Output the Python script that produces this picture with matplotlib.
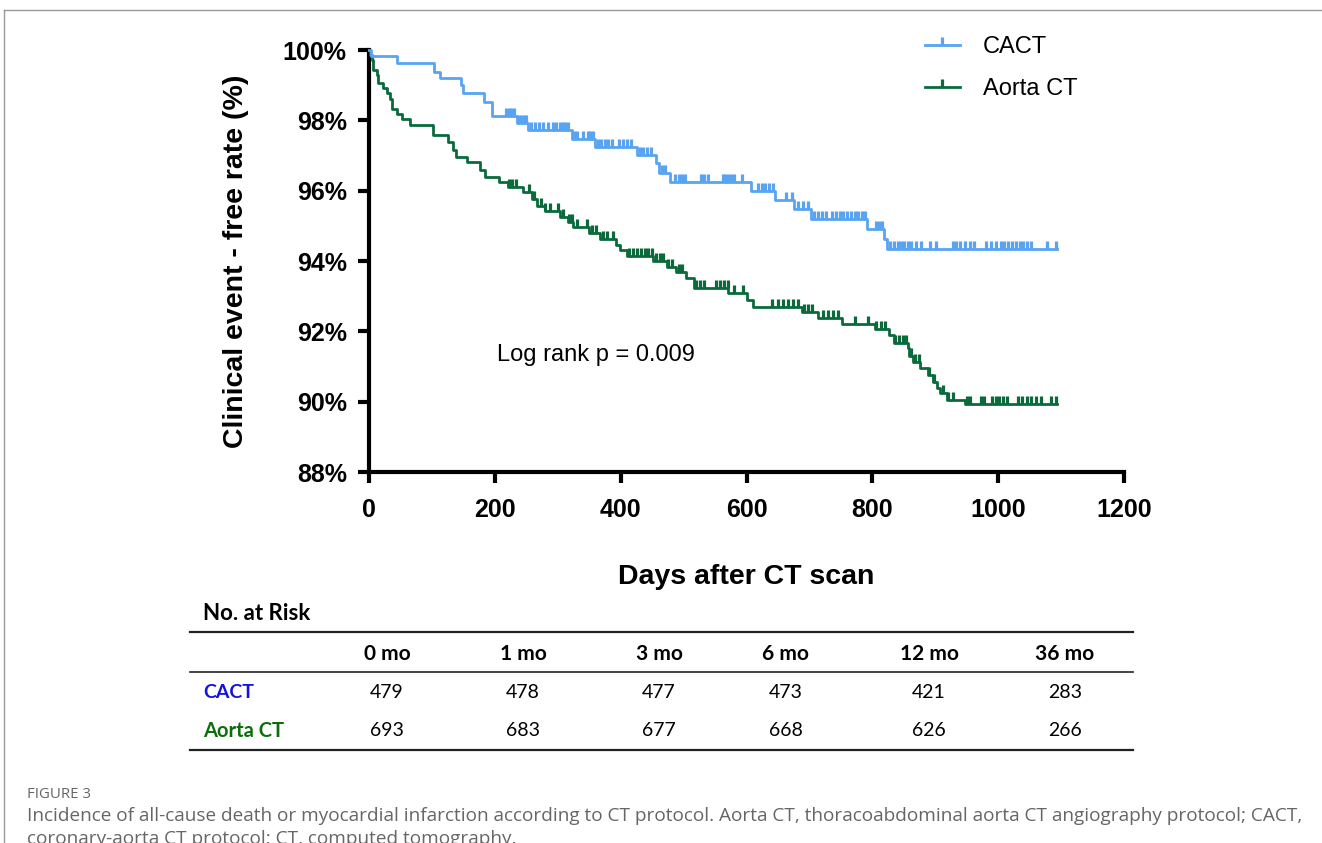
import numpy as np
import matplotlib.pyplot as plt
from matplotlib.lines import Line2D
from matplotlib.path import Path
from matplotlib.markers import MarkerStyle

# Kaplan-Meier steps (days, % event-free after the step)
cact_days = [0, 3, 44, 103, 113, 147, 150, 183, 195, 235, 253, 322, 359, 426, 456,
             461, 478, 607, 645, 676, 703, 792, 819, 823, 1094]
cact_surv = [100, 99.83, 99.62, 99.38, 99.19, 99.0, 98.79, 98.53, 98.13, 97.93, 97.73,
             97.47, 97.25, 97.01, 96.78, 96.51, 96.26, 96.0, 95.74, 95.47, 95.19, 94.91,
             94.62, 94.33, 94.33]
cact_cens = [218, 222, 226, 230, 238, 242, 246, 250, 258, 264, 270, 277, 285, 293, 298,
             303, 308, 312, 317, 326, 331, 340, 348, 352, 356, 364, 369, 375, 380, 386,
             398, 404, 410, 416, 430, 436, 442, 448, 465, 470, 486, 492, 498, 503, 528,
             533, 539, 562, 566, 571, 576, 580, 593, 618, 624, 630, 636, 642, 662, 672,
             682, 690, 697, 708, 714, 720, 726, 736, 742, 748, 754, 760, 766, 772, 778,
             784, 789, 806, 810, 816, 828, 834, 840, 845, 850, 856, 862, 870, 878, 891,
             901, 928, 933, 940, 948, 955, 962, 980, 988, 996, 1004, 1010, 1016, 1022,
             1028, 1034, 1040, 1046, 1052, 1078, 1092]

aorta_days = [0, 2, 4, 7, 12, 15, 23, 28, 33, 36, 44, 52, 65, 102, 126, 134, 139, 155,
              176, 184, 206, 221, 245, 259, 267, 280, 304, 317, 325, 349, 367, 393, 399,
              410, 452, 473, 488, 504, 516, 571, 600, 611, 688, 714, 751, 804, 826, 834,
              856, 859, 865, 875, 888, 896, 903, 907, 918, 947, 1094]
aorta_surv = [100, 99.86, 99.71, 99.42, 99.28, 99.05, 98.91, 98.77, 98.62, 98.33, 98.19,
              98.04, 97.87, 97.58, 97.37, 97.15, 96.97, 96.82, 96.59, 96.40, 96.26, 96.11,
              95.97, 95.76, 95.55, 95.42, 95.26, 95.12, 94.96, 94.79, 94.62, 94.46, 94.31,
              94.14, 93.99, 93.84, 93.70, 93.51, 93.22, 93.08, 92.89, 92.70, 92.56, 92.37,
              92.21, 92.06, 91.90, 91.66, 91.52, 91.30, 91.14, 90.95, 90.76, 90.57, 90.38,
              90.24, 90.05, 89.93, 89.93]
aorta_cens = [222, 228, 234, 254, 262, 273, 280, 287, 300, 308, 318, 322, 330, 347, 354,
              360, 372, 378, 388, 414, 420, 426, 432, 438, 444, 450, 456, 462, 468, 476,
              482, 492, 498, 520, 526, 533, 552, 558, 564, 570, 580, 594, 640, 650, 658,
              666, 674, 682, 692, 698, 704, 722, 730, 738, 746, 772, 793, 806, 814, 820,
              836, 842, 848, 854, 862, 868, 874, 890, 898, 912, 920, 928, 950, 955, 972,
              978, 990, 996, 1002, 1008, 1014, 1032, 1038, 1046, 1052, 1060, 1068, 1084,
              1092]

risk_cols = ['0 mo', '1 mo', '3 mo', '6 mo', '12 mo', '36 mo']
risk_cact = [479, 478, 477, 473, 421, 283]
risk_aorta = [693, 683, 677, 668, 626, 266]

c_cact = '#58A3F2'
c_aorta = '#0A6A3C'

W, H = 1322, 843
fig = plt.figure(figsize=(W / 100, H / 100), dpi=100)
fig.patch.set_facecolor('white')
ax = fig.add_axes([369 / W, 1 - 472 / H, 755 / W, 422 / H])

# censor tick: vertical stroke going up from the curve
tick = MarkerStyle(Path([(0, 0), (0, 1)], [Path.MOVETO, Path.LINETO]))


def surv_at(days, surv, t):
    i = np.searchsorted(days, t, side='right') - 1
    return np.asarray(surv)[i]


for days, surv, cens, col in [(aorta_days, aorta_surv, aorta_cens, c_aorta),
                              (cact_days, cact_surv, cact_cens, c_cact)]:
    ax.step(days, surv, where='post', color=col, lw=2.0, clip_on=False, zorder=3)
    ax.plot(cens, surv_at(days, surv, cens), ls='none', marker=tick, ms=12, mew=2.3,
            color=col, clip_on=False, zorder=3)

ax.set_xlim(0, 1200)
ax.set_ylim(88, 100)
ax.set_xticks(range(0, 1201, 200))
ax.set_yticks(range(88, 101, 2))
ax.set_yticklabels([f'{v}%' for v in range(88, 101, 2)])
for s in ['top', 'right']:
    ax.spines[s].set_visible(False)
for s in ['left', 'bottom']:
    ax.spines[s].set_linewidth(3)
ax.tick_params(width=3, length=8, labelsize=18, direction='out')
ax.tick_params(axis='y', pad=8)
ax.tick_params(axis='x', pad=11)
for lbl in ax.get_xticklabels() + ax.get_yticklabels():
    lbl.set_fontweight('bold')
    lbl.set_family('Liberation Sans')

ax.set_ylabel('Clinical event - free rate (%)', fontsize=20.5, fontweight='bold',
              family='Liberation Sans', labelpad=24)
ax.set_xlabel('Days after CT scan', fontsize=20.5, fontweight='bold',
              family='Liberation Sans', labelpad=30)

ax.text(203, 91.33, 'Log rank p = 0.009', fontsize=17, family='Liberation Sans',
        va='center', ha='left')

handles = [Line2D([], [], color=c_cact, lw=2.0, marker=tick, ms=12, mew=2.3),
           Line2D([], [], color=c_aorta, lw=2.0, marker=tick, ms=12, mew=2.3)]
ax.legend(handles, ['CACT', 'Aorta CT'], loc='center left', bbox_to_anchor=(0.736, 0.957),
          frameon=False, borderpad=0, borderaxespad=0, handlelength=1.5,
          handletextpad=0.95, labelspacing=0.85, numpoints=1,
          prop={'family': 'Liberation Sans', 'size': 17})

# number at risk table
def fx(x):
    return x / W


def fy(y):
    return 1 - y / H


tfont = 'Lato'
fig.text(fx(203), fy(613), 'No. at Risk', fontsize=16, fontweight='bold', family=tfont,
         va='center', ha='left')
for y, lw in [(632, 1.6), (672, 1.2), (750, 1.6)]:
    fig.add_artist(Line2D([fx(190), fx(1133)], [fy(y), fy(y)], color='#222222', lw=lw))
col_x = [387, 523, 659, 786, 929, 1065]
for cx, name, a, b in zip(col_x, risk_cols, risk_cact, risk_aorta):
    fig.text(fx(cx), fy(654), name, fontsize=15, fontweight='bold', family=tfont,
             ha='center', va='center')
    fig.text(fx(cx), fy(692), str(a), fontsize=14, family=tfont, ha='center', va='center')
    fig.text(fx(cx), fy(731), str(b), fontsize=14, family=tfont, ha='center', va='center')
fig.text(fx(203), fy(692), 'CACT', fontsize=14, fontweight='bold', family=tfont,
         color='#1010E8', va='center', ha='left')
fig.text(fx(203), fy(731), 'Aorta CT', fontsize=14.5, fontweight='bold', family=tfont,
         color='#0B6E0B', va='center', ha='left')

# page frame and caption
fig.add_artist(Line2D([fx(4), fx(W)], [fy(10), fy(10)], color='#999999', lw=1))
fig.add_artist(Line2D([fx(4), fx(4)], [fy(10), 0], color='#999999', lw=1))
fig.text(fx(27), fy(794), 'FIGURE 3', fontsize=10.8, family='Open Sans', color='#666666',
         va='center', ha='left')
fig.text(fx(27), fy(816),
         'Incidence of all-cause death or myocardial infarction according to CT protocol. '
         'Aorta CT, thoracoabdominal aorta CT angiography protocol; CACT,',
         fontsize=13.7, family='Open Sans', color='#666666', va='center', ha='left')
fig.text(fx(27), fy(830), 'coronary-aorta CT protocol; CT, computed tomography.',
         fontsize=13.7, family='Open Sans', color='#666666', va='top', ha='left')

fig.savefig('out.png', dpi=100)
